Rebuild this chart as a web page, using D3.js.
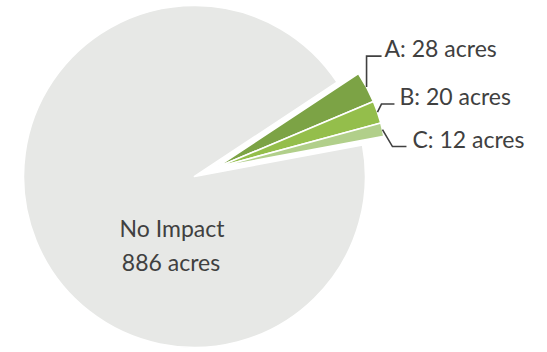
<!DOCTYPE html>
<html><head><meta charset="utf-8">
<script src="https://cdn.jsdelivr.net/npm/d3@7"></script>
<style>html,body{margin:0;padding:0;background:#fff}</style>
</head><body>
<svg id="c" width="547" height="352"></svg>
<script>
const categories = ["A", "B", "C", "No Impact"];
const values = [28, 20, 12, 886];
const units = "acres";
const colors = ["#7ca345", "#94be4b", "#b1cf8a", "#e7e8e6"];

const W = 547, H = 352;
const cx = 194.5, cy = 176.5, R = 171;
const explode = 23;
const deg = Math.PI / 180;
const svg = d3.select("#c");
const g = svg.append("g").attr("transform", `translate(${cx},${cy})`);

const pie = d3.pie().sort(null).value(d => d.v)
  .startAngle(56.5 * deg).endAngle((56.5 + 360) * deg);
const data = pie(categories.map((c, i) => ({c, v: values[i], col: colors[i]})));
const arc = d3.arc().innerRadius(0).outerRadius(R);

const green = data.slice(0, 3);
const gMid = (green[0].startAngle + green[2].endAngle) / 2;
const ox = explode * Math.sin(gMid), oy = -explode * Math.cos(gMid);

g.selectAll("path").data(data).join("path")
  .attr("d", arc)
  .attr("fill", d => d.data.col)
  .attr("stroke", "#fff").attr("stroke-width", 1.6).attr("stroke-linejoin", "round")
  .attr("transform", (d, i) => i < 3 ? `translate(${ox},${oy})` : null);

const font = "Lato, 'Open Sans', sans-serif";
const fs = 23;
// leader lines + labels for exploded slices
const leaders = [
  {pts: [[0, 0], [0, -31], [15, -31]], tx: 18, ty: -30},
  {pts: [[0, 0], [4, -8], [17, -8]], tx: 22, ty: -7.5},
  {pts: [[0, 0], [10, 17], [24, 17]], tx: 30, ty: 18.5}
];
green.forEach((d, i) => {
  const a = (d.startAngle + d.endAngle) / 2;
  const px = ox + R * Math.sin(a), py = oy - R * Math.cos(a);
  const L = leaders[i];
  g.append("path")
    .attr("d", d3.line()(L.pts.map(p => [px + p[0], py + p[1]])))
    .attr("fill", "none").attr("stroke", "#404040").attr("stroke-width", 1.6);
  g.append("text")
    .attr("x", px + L.tx).attr("y", py + L.ty)
    .attr("font-family", font).attr("font-size", fs).attr("fill", "#404040")
    .text(`${d.data.c}: ${d.data.v} ${units}`);
});

const ni = data[3];
const t = g.append("text")
  .attr("text-anchor", "middle")
  .attr("font-family", font).attr("font-size", fs).attr("fill", "#404040");
t.append("tspan").attr("x", -22.5).attr("y", 60).text(ni.data.c);
t.append("tspan").attr("x", -23.5).attr("y", 94).text(`${ni.data.v} ${units}`);
</script>
</body></html>
